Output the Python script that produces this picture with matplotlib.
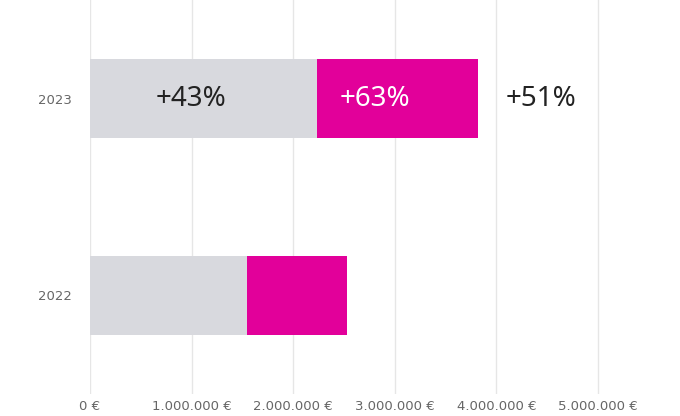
import matplotlib.pyplot as plt

years = ['2022', '2023']
base = [1.55e6, 2.23e6]
extra = [0.98e6, 1.59e6]
labels_base = ['', '+43%']
labels_extra = ['', '+63%']
labels_total = ['', '+51%']
xticks = [0, 1e6, 2e6, 3e6, 4e6, 5e6]
xtick_labels = ['0 €', '1.000.000 €', '2.000.000 €', '3.000.000 €', '4.000.000 €', '5.000.000 €']

grey = '#d8d9de'
pink = '#e2009a'

fig = plt.figure(figsize=(6.8, 4.16), dpi=100)
ax = fig.add_axes([90 / 680, 1 - 394 / 416, 590 / 680, 394 / 416])

y = list(range(len(years)))
ax.barh(y, base, height=0.396, color=grey, zorder=2)
ax.barh(y, extra, left=base, height=0.396, color=pink, zorder=2)

for i in y:
    b, e = base[i], extra[i]
    if labels_base[i]:
        ax.text(b * 0.445, i, labels_base[i], ha='center', va='center',
                fontsize=20, color='#222222', family='Noto Sans', zorder=3)
    if labels_extra[i]:
        ax.text(b + e * 0.36, i, labels_extra[i], ha='center', va='center',
                fontsize=20, color='white', family='Noto Sans', zorder=3)
    if labels_total[i]:
        ax.text(b + e + 0.62e6, i, labels_total[i], ha='center', va='center',
                fontsize=20, color='#222222', family='Noto Sans', zorder=3)

ax.set_xlim(0, 590 / 101.6 * 1e6)
ax.set_ylim(-0.5, 1.5)
ax.set_xticks(xticks)
ax.set_xticklabels(xtick_labels)
ax.set_yticks(y)
ax.set_yticklabels(years)
ax.grid(axis='x', color='#e6e6e6', linewidth=1, zorder=0)
ax.tick_params(length=0, labelsize=9.5, labelcolor='#666666')
ax.tick_params(axis='x', pad=4)
ax.tick_params(axis='y', pad=13)
for s in ax.spines.values():
    s.set_visible(False)

fig.savefig('out.png', dpi=100)
